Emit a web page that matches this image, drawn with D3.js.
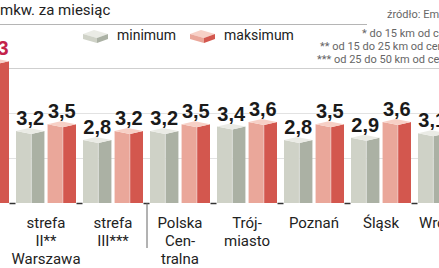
<!DOCTYPE html>
<html>
<head>
<meta charset="utf-8">
<script src="https://cdn.jsdelivr.net/npm/d3@7"></script>
<style>
  body { margin: 0; background: #fff; }
  svg { display: block; font-family: Roboto, "Liberation Sans", sans-serif; }
</style>
</head>
<body>
<svg id="chart" width="439" height="268"></svg>
<script>
// data (first and last groups are cut by the frame)
const categories = ["strefa I*", "strefa II**", "strefa III***", "Polska Centralna", "Trójmiasto", "Poznań", "Śląsk", "Wrocław"];
const categoryLines = [
  ["strefa", "I*"],
  ["strefa", "II**", "Warszawa"],
  ["strefa", "III***"],
  ["Polska", "Cen-", "tralna"],
  ["Trój-", "miasto"],
  ["Poznań"],
  ["Śląsk"],
  ["Wrocław"]
];
const minimum = [4.0, 3.2, 2.8, 3.2, 3.4, 2.8, 2.9, 3.1];
const maximum = [6.3, 3.5, 3.2, 3.5, 3.6, 3.5, 3.6, 3.5];
const seriesNames = ["minimum", "maksimum"];
const gridTicks = [2, 4, 6];
const footnotes = ["* do 15 km od centrum", "** od 15 do 25 km od centrum", "*** od 25 do 50 km od centrum"];
const sourceText = "źródło: Emmerson";
const titleText = "mkw. za miesiąc";

const svg = d3.select("#chart");

const palette = {
  minimum: { front: "#cfd2c7", side: "#abb1a4", top: "#eaebe5" },
  maksimum: { front: "#eaa79a", side: "#d3574e", top: "#f7d0c6" }
};

const baseY = 203;
const x = d3.scaleBand().domain(categories).range([-54.5, -54.5 + 67 * categories.length]);
const xs = d3.scaleBand().domain(seriesNames).range([3.5, 63.5]).paddingInner(0.1);
const y = d3.scaleLinear().domain([0, 6]).range([baseY, 68]);

// header
svg.append("text").attr("x", 0).attr("y", 15)
  .attr("font-size", 15).attr("fill", "#222").text(titleText);
svg.append("line").attr("x1", 0).attr("x2", 367).attr("y1", 24.5).attr("y2", 24.5)
  .attr("stroke", "#b5b5b5");
svg.append("text").attr("x", 387).attr("y", 18)
  .attr("font-size", 11).attr("fill", "#666").text(sourceText);
const fnX = [362, 320, 317];
svg.selectAll(".fn").data(footnotes).join("text")
  .attr("class", "fn")
  .attr("x", (d, i) => fnX[i]).attr("y", (d, i) => 37 + i * 13)
  .attr("font-size", 11).attr("fill", "#666").text(d => d);

// legend
const legX = [83, 190];
const leg = svg.selectAll(".leg").data(seriesNames).join("g")
  .attr("class", "leg")
  .attr("transform", (d, i) => `translate(${legX[i]},30)`);
leg.append("path")
  .attr("d", "M0,4 L11,0 L25,4 L14,8 Z")
  .attr("fill", d => palette[d].top);
leg.append("path")
  .attr("d", "M0,4 L14,8 L14,13 L0,9 Z")
  .attr("fill", d => palette[d].front);
leg.append("path")
  .attr("d", "M14,8 L25,4 L25,9 L14,13 Z")
  .attr("fill", d => palette[d].side);
leg.append("text").attr("x", 34).attr("y", 10)
  .attr("font-size", 14).attr("fill", "#222").text(d => d);

// grid
svg.append("g")
  .attr("class", "grid")
  .call(d3.axisLeft(y).tickValues(gridTicks).tickSize(-439).tickFormat(""))
  .call(g => g.select(".domain").remove())
  .call(g => g.selectAll("line").attr("stroke", d => d === 6 ? "#cfcfcf" : "#e2e2e2"));

// bars
const rows = categories.map((c, i) => ({ cat: c, values: [
  { key: "minimum", v: minimum[i] }, { key: "maksimum", v: maximum[i] }
] }));
const vmax = d3.max(maximum);

const group = svg.selectAll(".grp").data(rows).join("g")
  .attr("class", "grp")
  .attr("transform", d => `translate(${x(d.cat)},0)`);

const bar = group.selectAll(".bar").data(d => d.values).join("g")
  .attr("class", "bar");

const bw = xs.bandwidth();
const split = bw * 0.54;
const d3h = 3;

bar.append("path")
  .attr("fill", d => palette[d.key].front)
  .attr("d", d => {
    const x0 = xs(d.key), t = y(d.v);
    return `M${x0},${t} L${x0 + split},${t + d3h} L${x0 + split},${baseY} L${x0},${baseY} Z`;
  });
bar.append("path")
  .attr("fill", d => palette[d.key].side)
  .attr("d", d => {
    const x0 = xs(d.key), t = y(d.v);
    return `M${x0 + split},${t + d3h} L${x0 + bw},${t} L${x0 + bw},${baseY} L${x0 + split},${baseY} Z`;
  });
bar.append("path")
  .attr("fill", d => palette[d.key].top)
  .attr("d", d => {
    const x0 = xs(d.key), t = y(d.v);
    return `M${x0},${t} L${x0 + split},${t + d3h} L${x0 + bw},${t} L${x0 + bw - split},${t - d3h} Z`;
  });
bar.append("line")
  .attr("x1", d => xs(d.key) + split).attr("x2", d => xs(d.key) + split)
  .attr("y1", d => y(d.v) + d3h).attr("y2", baseY)
  .attr("stroke", "#fff").attr("stroke-opacity", 0.6).attr("stroke-width", 0.7);

bar.append("text")
  .attr("x", d => xs(d.key) + bw / 2)
  .attr("y", d => y(d.v) - 6)
  .attr("text-anchor", "middle")
  .attr("font-family", "'Liberation Sans', Arial, sans-serif")
  .attr("font-weight", "bold").attr("font-size", 20)
  .attr("fill", d => d.v === vmax ? "#c4234b" : "#1a1a1a")
  .text(d => d3.format(".1f")(d.v).replace(".", ","));

// baseline ticks between groups
const bounds = d3.range(categories.length + 1).map(i => x.range()[0] + x.step() * i);
svg.selectAll(".btick").data(bounds).join("line")
  .attr("class", "btick")
  .attr("x1", d => d - 3).attr("x2", d => d + 3)
  .attr("y1", baseY + 0.5).attr("y2", baseY + 0.5)
  .attr("stroke", "#333").attr("stroke-width", 1.5);

// separator between the Warsaw zones and the regions
svg.append("line")
  .attr("x1", x("Polska Centralna") + 0.5).attr("x2", x("Polska Centralna") + 0.5)
  .attr("y1", baseY).attr("y2", 248)
  .attr("stroke", "#666");

// category labels
group.append("text")
  .attr("x", x.bandwidth() / 2)
  .attr("text-anchor", "middle")
  .attr("font-size", 15).attr("fill", "#222")
  .selectAll("tspan").data((d, i) => categoryLines[i]).join("tspan")
  .attr("x", x.bandwidth() / 2)
  .attr("y", (d, i) => 228 + i * 18)
  .text(d => d);
</script>
</body>
</html>
